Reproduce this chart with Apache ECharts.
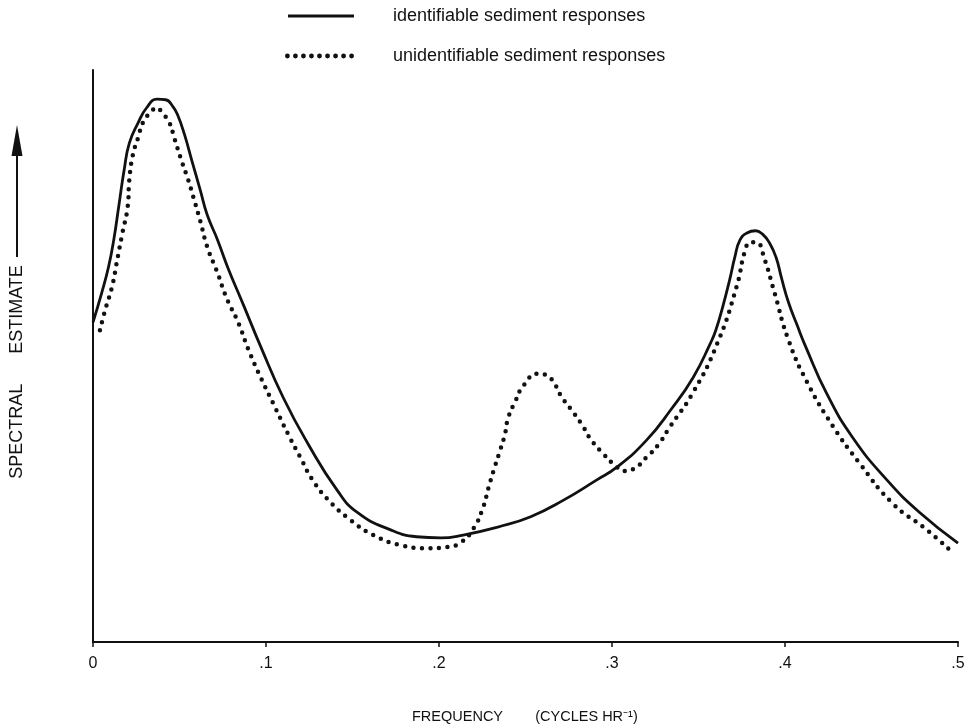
<!DOCTYPE html>
<html>
<head>
<meta charset="utf-8">
<script src="https://cdn.jsdelivr.net/npm/echarts@6/dist/echarts.min.js"></script>
<style>
  html, body { margin: 0; padding: 0; background: #fff; }
  #main { width: 969px; height: 724px; }
</style>
</head>
<body>
<div id="main"></div>
<script>
// frequency (cycles/hr) and spectral estimate (relative, 0-100)
let identFreq = [0, 0.005, 0.009, 0.012, 0.015, 0.018, 0.021, 0.026, 0.031, 0.037,
  0.042, 0.046, 0.049, 0.053, 0.057, 0.062, 0.066, 0.072, 0.078, 0.087,
  0.097, 0.110, 0.124, 0.141, 0.153, 0.172, 0.187, 0.201, 0.214, 0.234,
  0.253, 0.272, 0.291, 0.303, 0.320, 0.334, 0.347, 0.357, 0.360, 0.364,
  0.368, 0.371, 0.374, 0.378, 0.383, 0.387, 0.391, 0.395, 0.398, 0.402,
  0.407, 0.412, 0.424, 0.439, 0.459, 0.478, 0.500]
let identValue = [55.9, 61.0, 65.6, 70.3, 76.4, 82.5, 87.2, 90.7, 93.4, 94.9,
  94.8, 93.7, 92.1, 88.6, 84.3, 79.0, 74.7, 70.3, 65.4, 58.9,
  51.6, 42.7, 34.8, 26.6, 22.6, 19.6, 18.4, 18.2, 18.7, 20.1,
  21.9, 24.8, 28.3, 30.6, 35.3, 40.6, 46.3, 52.3, 54.5, 58.6,
  63.3, 67.3, 70.3, 71.5, 71.9, 71.3, 69.8, 67.1, 63.6, 59.4,
  55.4, 51.6, 43.5, 35.8, 28.3, 22.6, 17.3]

let unidentFreq = [0.004, 0.007, 0.011, 0.014, 0.017, 0.020, 0.021, 0.023, 0.026, 0.029,
  0.033, 0.037, 0.040, 0.044, 0.047, 0.051, 0.055, 0.058, 0.062, 0.066,
  0.072, 0.077, 0.084, 0.090, 0.097, 0.104, 0.113, 0.120, 0.127, 0.137,
  0.149, 0.162, 0.177, 0.193, 0.205, 0.213, 0.220, 0.225, 0.229, 0.232,
  0.235, 0.238, 0.240, 0.244, 0.249, 0.257, 0.262, 0.266, 0.271, 0.277,
  0.283, 0.288, 0.295, 0.302, 0.307, 0.312, 0.320, 0.327, 0.333, 0.347,
  0.361, 0.372, 0.377, 0.380, 0.384, 0.388, 0.394, 0.402, 0.413, 0.428,
  0.443, 0.462, 0.482, 0.497]
let unidentValue = [54.5, 58.0, 62.1, 66.8, 71.5, 76.0, 80.8, 85.1, 88.1, 90.9,
  92.5, 93.4, 92.5, 90.9, 88.1, 84.3, 80.8, 77.8, 73.6, 69.1,
  64.5, 60.3, 55.8, 51.0, 46.2, 41.8, 36.2, 32.2, 28.3, 24.5,
  21.3, 18.7, 17.0, 16.4, 16.6, 17.5, 19.9, 23.1, 27.4, 30.4,
  33.2, 36.2, 39.2, 42.0, 44.9, 46.9, 46.7, 45.5, 42.8, 40.4,
  37.8, 35.3, 32.9, 30.8, 29.9, 30.2, 32.3, 34.6, 37.4, 43.7,
  52.3, 62.1, 68.5, 69.9, 69.8, 67.1, 61.0, 52.8, 45.3, 37.6,
  31.3, 24.3, 19.6, 15.6]

let tickLabels = ['0', '.1', '.2', '.3', '.4', '.5']
let seriesNames = ['identifiable sediment responses', 'unidentifiable sediment responses']

function pairs (xs, ys) {
  let out = []
  for (let i = 0; i < xs.length; i++) {
    out.push([xs[i], ys[i]])
  }
  return out
}

// legend icon for the dotted series: a row of small round dots
function dotRowPath (count, step, r) {
  let p = []
  for (let i = 0; i < count; i++) {
    let cx = r + i * step
    p.push('M' + (cx - r) + ',' + r + ' A' + r + ',' + r + ' 0 1,0 ' + (cx + r) + ',' + r +
      ' A' + r + ',' + r + ' 0 1,0 ' + (cx - r) + ',' + r + ' Z')
  }
  return 'path://' + p.join(' ')
}

let ink = '#111'
let font = '"Liberation Sans", Arial, Helvetica, sans-serif'

let legendBase = {
  orient: 'horizontal',
  padding: 0,
  itemStyle: { color: ink, borderWidth: 0 },
  lineStyle: { width: 0 },
  textStyle: { fontSize: 18, color: ink, padding: [0, 0, 0, 34] }
}

let chart = echarts.init(document.getElementById('main'))
let option = {
  animation: false,
  backgroundColor: '#fff',
  textStyle: { fontFamily: font, color: ink },
  legend: [
    Object.assign({}, legendBase, {
      left: 288,
      top: 7,
      itemWidth: 66,
      itemHeight: 3,
      data: [{ name: seriesNames[0], icon: 'rect' }]
    }),
    Object.assign({}, legendBase, {
      left: 285,
      top: 47,
      itemWidth: 69,
      itemHeight: 5,
      data: [{ name: seriesNames[1], icon: dotRowPath(9, 8, 2.4) }]
    })
  ],
  grid: {
    left: 93,
    right: 11,
    top: 70,
    bottom: 82,
    containLabel: false
  },
  xAxis: {
    type: 'value',
    min: 0,
    max: 0.5,
    interval: 0.1,
    axisLine: { show: true, onZero: false, lineStyle: { color: ink, width: 2 } },
    axisTick: { show: true, length: 5, lineStyle: { color: ink, width: 1.5 } },
    axisLabel: {
      fontSize: 16,
      color: ink,
      margin: 14,
      formatter: function (value) {
        return tickLabels[Math.round(value * 10)]
      }
    },
    splitLine: { show: false }
  },
  yAxis: {
    type: 'value',
    min: 0,
    max: 100,
    axisLine: { show: true, lineStyle: { color: ink, width: 2 } },
    axisTick: { show: false },
    axisLabel: { show: false },
    splitLine: { show: false }
  },
  graphic: [
    {
      type: 'text',
      left: 412,
      top: 709,
      style: { text: 'FREQUENCY        (CYCLES HR⁻¹)', font: '14.5px ' + font, fill: ink }
    },
    {
      type: 'text',
      x: 17,
      y: 372,
      rotation: Math.PI / 2,
      style: {
        text: 'SPECTRAL      ESTIMATE',
        font: '18px ' + font,
        fill: ink,
        align: 'center',
        verticalAlign: 'middle'
      }
    },
    {
      type: 'line',
      shape: { x1: 17, y1: 257, x2: 17, y2: 150 },
      style: { stroke: ink, lineWidth: 2 }
    },
    {
      type: 'polygon',
      shape: { points: [[17, 125], [11.5, 156], [22.5, 156]] },
      style: { fill: ink }
    }
  ],
  series: [
    {
      name: seriesNames[0],
      type: 'line',
      data: pairs(identFreq, identValue),
      showSymbol: false,
      symbol: 'none',
      smooth: 0.5,
      lineStyle: { color: ink, width: 2.8 },
      itemStyle: { color: ink }
    },
    {
      name: seriesNames[1],
      type: 'line',
      data: pairs(unidentFreq, unidentValue),
      showSymbol: false,
      symbol: 'none',
      smooth: 0.5,
      lineStyle: { color: ink, width: 4.5, type: [0, 8.5], cap: 'round' },
      itemStyle: { color: ink }
    }
  ]
}
chart.setOption(option)
</script>
</body>
</html>
